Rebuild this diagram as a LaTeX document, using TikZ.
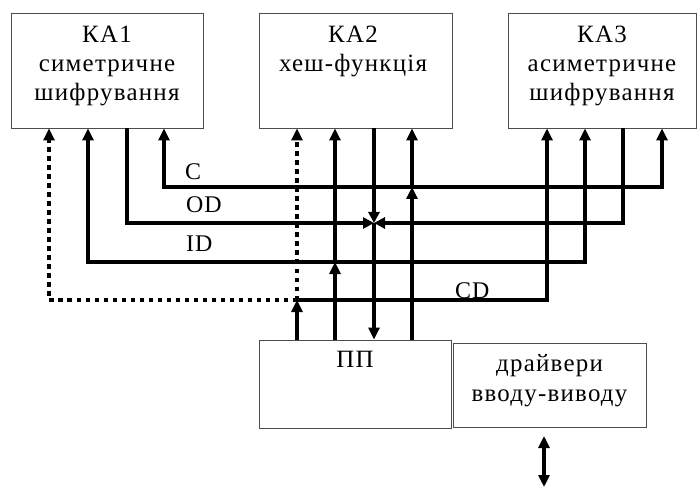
\documentclass[tikz,border=0pt]{standalone}
\usepackage{fontspec}
\setmainfont{Liberation Serif}
\newfontfamily\boxfont{Liberation Serif}[LetterSpace=5]
\newfontfamily\lblfont{Liberation Serif}[LetterSpace=4]
\usetikzlibrary{arrows.meta}
\begin{document}
\begin{tikzpicture}[x=1bp,y=-1bp,
  box/.style={draw=black!70,line width=0.9bp,rectangle,inner sep=0pt},
  txt/.style={font=\boxfont\fontsize{25}{29.5}\selectfont,align=center,inner sep=0pt},
  lbl/.style={font=\lblfont\fontsize{24}{27}\selectfont,inner sep=0pt},
  bus/.style={line width=4bp,line join=miter,line cap=butt},
  dotbus/.style={bus,dash pattern=on 4.5bp off 4.5bp},
  tip/.tip={Triangle[width=11bp,length=12bp]},
  jtip/.tip={Triangle[width=11bp,length=11bp]}
]
\useasboundingbox (0,0) rectangle (697,488);
% boxes
\node[box,minimum width=192bp,minimum height=115bp] (ka1) at (107,70.5) {};
\node[box,minimum width=193bp,minimum height=115bp] (ka2) at (355.5,70.5) {};
\node[box,minimum width=188bp,minimum height=115bp] (ka3) at (602,70.5) {};
\node[box,minimum width=192bp,minimum height=88bp] (pp) at (355,384) {};
\node[box,minimum width=193bp,minimum height=84bp] (drv) at (549.5,385) {};
% texts (anchor=base refers to the last line)
\node[txt,anchor=base] at (107,101) {КА1\\симетричне\\шифрування};
\node[txt,anchor=base] at (353,72) {КА2\\хеш-функція};
\node[txt,anchor=base] at (602,101) {КА3\\асиметричне\\шифрування};
\node[txt,anchor=base] at (355,367) {ПП};
\node[txt,anchor=base] at (549.5,401) {драйвери\\вводу-виводу};
\node[lbl,anchor=base west] at (185,180) {C};
\node[lbl,anchor=base west] at (186,213) {OD};
\node[lbl,anchor=base west] at (186,252) {ID};
\node[lbl,anchor=base west] at (455,298) {CD};
% junction coordinates
\coordinate (c1) at (164,187); \coordinate (c2) at (412,187); \coordinate (c3) at (662,187);
\coordinate (o1) at (127,223); \coordinate (o2) at (374,223); \coordinate (o3) at (623,223);
\coordinate (a1) at (88,262);  \coordinate (a2) at (335,262); \coordinate (a3) at (585,262);
\coordinate (d1) at (49,300);  \coordinate (d2) at (297,300); \coordinate (d3) at (547,300);
\coordinate (ioT) at (544,436); \coordinate (ioB) at (544,487);
% C bus
\draw[bus,{tip}-{tip}] (ka1.south -| c1) -- (c1) -- (c3) -- (ka3.south -| c3);
\draw[bus,-{tip}] (pp.north -| c2) -- (c2);
\draw[bus,-{tip}] (c2) -- (ka2.south -| c2);
% OD bus
\draw[bus,-{jtip}] (ka1.south -| o1) -- (o1) -- (o2);
\draw[bus,-{jtip}] (ka3.south -| o3) -- (o3) -- (o2);
\draw[bus,-{jtip}] (ka2.south -| o2) -- (o2);
\draw[bus,-{tip}] (o2) -- (pp.north -| o2);
% ID bus
\draw[bus,{tip}-{tip}] (ka1.south -| a1) -- (a1) -- (a3) -- (ka3.south -| a3);
\draw[bus,-{tip}] (pp.north -| a2) -- (a2);
\draw[bus,-{tip}] (a2) -- (ka2.south -| a2);
% CD bus
\draw[dotbus,-{tip}] (d2) -- (d1) -- (ka1.south -| d1);
\draw[dotbus,-{tip}] (d2) -- (ka2.south -| d2);
\draw[bus,-{tip}] (d2) -- (d3) -- (ka3.south -| d3);
\draw[bus,-{tip}] (pp.north -| d2) -- (d2);
% I/O
\draw[bus,{tip}-{tip}] (ioT) -- (ioB);
\end{tikzpicture}
\end{document}
